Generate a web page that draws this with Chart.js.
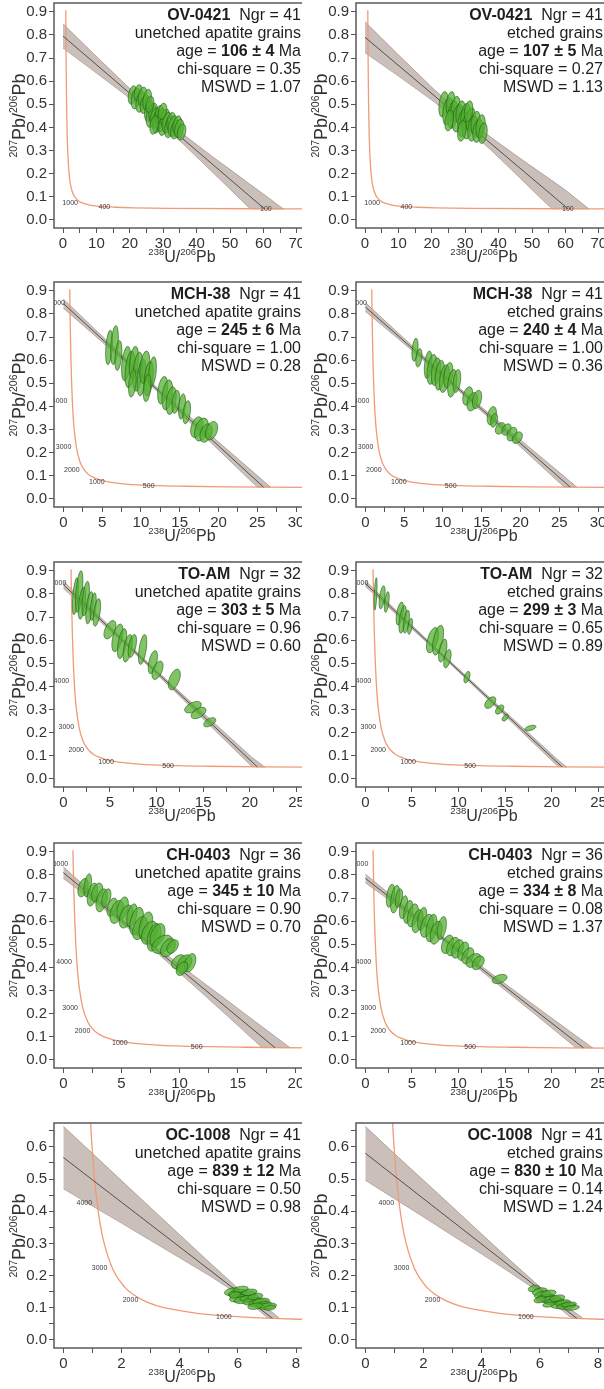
<!DOCTYPE html>
<html>
<head>
<meta charset="utf-8">
<script src="https://cdn.jsdelivr.net/npm/chart.js@4.4.1/dist/chart.umd.min.js"></script>
<style>
  html, body { margin: 0; padding: 0; background: #fff; }
  body { width: 604px; height: 1389px; position: relative; overflow: hidden; }
  .cell { position: absolute; width: 302px; height: 278px; overflow: hidden; }
  .cell canvas { display: block; }
</style>
</head>
<body>
<script>
// concordia curve (ages in Ma) and its points
const concAge = [5100, 5000, 4750, 4500, 4250, 4000, 3750, 3500, 3000, 2500, 2250, 2000, 1750, 1500, 1250, 1000, 750, 500, 400, 300, 200, 100, 50];
const concX = [0.829, 0.853, 0.918, 0.990, 1.071, 1.163, 1.267, 1.387, 1.687, 2.111, 2.394, 2.749, 3.206, 3.817, 4.673, 5.960, 8.10, 12.40, 15.62, 20.99, 31.73, 63.97, 128.4];
const concY = [0.907, 0.845, 0.709, 0.597, 0.503, 0.425, 0.360, 0.306, 0.223, 0.164, 0.142, 0.123, 0.107, 0.094, 0.082, 0.0725, 0.0643, 0.0572, 0.0547, 0.0523, 0.0501, 0.0480, 0.0470];

// one entry per panel, left to right, top to bottom
const sampleNames = ['OV-0421', 'OV-0421', 'MCH-38', 'MCH-38', 'TO-AM', 'TO-AM', 'CH-0403', 'CH-0403', 'OC-1008', 'OC-1008'];
const grainTypes = ['unetched apatite grains', 'etched grains', 'unetched apatite grains', 'etched grains', 'unetched apatite grains', 'etched grains', 'unetched apatite grains', 'etched grains', 'unetched apatite grains', 'etched grains'];
const ngr = [41, 41, 41, 41, 32, 32, 36, 36, 41, 41];
const ages = [106, 107, 245, 240, 303, 299, 345, 334, 839, 830];
const ageErrors = [4, 5, 6, 4, 5, 3, 10, 8, 12, 10];
const chiSquare = [0.35, 0.27, 1.00, 1.00, 0.96, 0.65, 0.90, 0.08, 0.50, 0.14];
const mswd = [1.07, 1.13, 0.28, 0.36, 0.60, 0.89, 0.70, 1.37, 0.98, 1.24];

// regression line: 207/206 intercept at x=0 and lower intercept on the concordia
const interceptY = [0.795, 0.79, 0.845, 0.83, 0.84, 0.845, 0.81, 0.785, 0.567, 0.58];
const lowerX = [60.3, 60.8, 25.8, 26.4, 20.8, 21.1, 18.2, 23.4, 7.19, 7.27];
const lowerY = [0.048, 0.048, 0.051, 0.051, 0.052, 0.052, 0.053, 0.052, 0.067, 0.067];

// error envelopes: [x], [upper], [lower]
const envOV0421u = [[0, 10, 20, 28, 36, 45, 52, 56, 60, 66], [0.848, 0.707, 0.568, 0.463, 0.370, 0.271, 0.197, 0.154, 0.112, 0.047], [0.743, 0.635, 0.526, 0.433, 0.328, 0.203, 0.105, 0.048, 0.048, 0.047]];
const envOV0421e = [[0, 10, 20, 29, 38, 46, 52, 56, 60, 67], [0.857, 0.714, 0.574, 0.456, 0.354, 0.271, 0.210, 0.170, 0.129, 0.048], [0.723, 0.622, 0.518, 0.416, 0.298, 0.187, 0.102, 0.048, 0.048, 0.048]];
const envMCH38u = [[0, 4, 8, 12, 16, 20, 24, 25, 26.7], [0.865, 0.736, 0.609, 0.484, 0.365, 0.246, 0.130, 0.101, 0.051], [0.825, 0.708, 0.590, 0.468, 0.341, 0.212, 0.083, 0.051, 0.051]];
const envMCH38e = [[0, 4, 8, 12, 16, 20, 24, 25.6, 27.25], [0.849, 0.725, 0.603, 0.484, 0.368, 0.255, 0.143, 0.098, 0.051], [0.811, 0.699, 0.585, 0.468, 0.348, 0.225, 0.101, 0.052, 0.051]];
const envTOAMu = [[0, 3, 6, 9, 12, 15, 18, 20.2, 21.6], [0.856, 0.737, 0.621, 0.506, 0.394, 0.285, 0.175, 0.094, 0.051], [0.824, 0.715, 0.605, 0.492, 0.376, 0.259, 0.141, 0.054, 0.051]];
const envTOAMe = [[0, 3, 6, 9, 12, 15, 18, 20.6, 21.6], [0.857, 0.741, 0.626, 0.513, 0.401, 0.290, 0.180, 0.084, 0.051], [0.833, 0.723, 0.612, 0.501, 0.387, 0.272, 0.156, 0.056, 0.051]];
const envCH0403u = [[0, 2, 4, 6, 8, 10, 12, 14, 16, 17.1, 19.5], [0.835, 0.745, 0.655, 0.568, 0.488, 0.412, 0.336, 0.261, 0.185, 0.143, 0.053], [0.785, 0.709, 0.633, 0.552, 0.466, 0.376, 0.286, 0.195, 0.103, 0.053, 0.053]];
const envCH0403e = [[0, 3, 6, 9, 12, 15, 18, 21, 22.5, 24.4], [0.804, 0.704, 0.606, 0.511, 0.419, 0.329, 0.240, 0.151, 0.107, 0.052], [0.766, 0.678, 0.588, 0.495, 0.399, 0.301, 0.204, 0.105, 0.055, 0.052]];
const envOC1008u = [[0, 1, 2, 3, 4, 5, 6, 6.5, 7.0, 7.2, 7.45], [0.664, 0.580, 0.495, 0.411, 0.327, 0.243, 0.161, 0.127, 0.096, 0.085, 0.066], [0.470, 0.416, 0.363, 0.309, 0.255, 0.201, 0.143, 0.109, 0.070, 0.067, 0.066]];
const envOC1008e = [[0, 1, 2, 3, 4, 5, 6, 6.5, 7.0, 7.2, 7.5], [0.664, 0.579, 0.496, 0.413, 0.329, 0.246, 0.165, 0.129, 0.098, 0.086, 0.066], [0.496, 0.439, 0.382, 0.324, 0.267, 0.208, 0.147, 0.113, 0.074, 0.067, 0.066]];

// grain ellipses: [238U/206Pb, 207Pb/206Pb, sx, sy]
const ellOV0421u = [[20.8, 0.54, 1.3, 0.04], [21.8, 0.525, 1.4, 0.045], [22.5, 0.55, 1.2, 0.035], [23.2, 0.51, 1.4, 0.045], [23.8, 0.535, 1.3, 0.04], [24.5, 0.5, 1.4, 0.04], [25.2, 0.52, 1.3, 0.045], [25.8, 0.47, 1.4, 0.045], [26.4, 0.45, 1.55, 0.05], [27.0, 0.465, 1.3, 0.04], [27.6, 0.44, 1.55, 0.045], [28.2, 0.425, 1.4, 0.05], [28.8, 0.455, 1.3, 0.04], [29.4, 0.43, 1.55, 0.05], [30.0, 0.41, 1.4, 0.045], [30.6, 0.44, 1.3, 0.04], [31.2, 0.42, 1.55, 0.045], [31.8, 0.4, 1.4, 0.045], [32.4, 0.425, 1.3, 0.04], [33.0, 0.405, 1.55, 0.045], [33.6, 0.39, 1.4, 0.04], [34.2, 0.41, 1.3, 0.04], [34.8, 0.395, 1.4, 0.04], [35.5, 0.38, 1.3, 0.035], [27.3, 0.41, 1.3, 0.04], [29.8, 0.47, 1.3, 0.035], [26.0, 0.5, 1.2, 0.035]];
const ellOV0421e = [[23.5, 0.5, 1.4, 0.055], [24.8, 0.47, 1.55, 0.06], [25.6, 0.505, 1.3, 0.05], [26.3, 0.455, 1.55, 0.06], [27.1, 0.48, 1.4, 0.055], [27.8, 0.44, 1.7, 0.06], [28.6, 0.465, 1.4, 0.05], [29.3, 0.42, 1.55, 0.06], [30.1, 0.45, 1.4, 0.055], [30.8, 0.41, 1.7, 0.06], [31.6, 0.435, 1.4, 0.05], [32.3, 0.395, 1.55, 0.055], [33.1, 0.42, 1.4, 0.05], [33.8, 0.385, 1.55, 0.05], [34.6, 0.405, 1.4, 0.05], [35.3, 0.375, 1.3, 0.045], [25.2, 0.43, 1.3, 0.045], [29.0, 0.385, 1.3, 0.045], [31.0, 0.47, 1.3, 0.045]];
const ellMCH38u = [[5.9, 0.655, 0.45, 0.075], [6.6, 0.665, 0.5, 0.085], [7.1, 0.62, 0.45, 0.065], [8.1, 0.585, 0.6, 0.075], [8.6, 0.56, 0.65, 0.08], [9.1, 0.59, 0.6, 0.07], [9.6, 0.55, 0.65, 0.085], [10.1, 0.525, 0.6, 0.08], [10.5, 0.57, 0.65, 0.07], [11.0, 0.52, 0.6, 0.075], [11.5, 0.55, 0.5, 0.065], [8.9, 0.5, 0.5, 0.06], [10.8, 0.48, 0.5, 0.06], [12.8, 0.47, 0.65, 0.06], [13.4, 0.45, 0.7, 0.065], [13.9, 0.425, 0.65, 0.06], [14.5, 0.42, 0.5, 0.05], [15.3, 0.4, 0.45, 0.055], [15.9, 0.375, 0.5, 0.05], [17.2, 0.31, 0.8, 0.045], [17.8, 0.3, 0.9, 0.05], [18.4, 0.285, 0.8, 0.04], [19.1, 0.295, 0.8, 0.04]];
const ellMCH38e = [[6.4, 0.645, 0.4, 0.05], [6.9, 0.61, 0.4, 0.04], [8.1, 0.58, 0.5, 0.06], [8.6, 0.56, 0.65, 0.065], [9.1, 0.55, 0.6, 0.06], [9.6, 0.535, 0.6, 0.065], [10.2, 0.52, 0.65, 0.06], [10.7, 0.535, 0.6, 0.055], [11.2, 0.5, 0.6, 0.06], [11.8, 0.51, 0.5, 0.05], [13.2, 0.445, 0.65, 0.04], [13.8, 0.42, 0.7, 0.04], [14.4, 0.43, 0.6, 0.04], [16.3, 0.36, 0.6, 0.04], [16.6, 0.34, 0.45, 0.03], [17.4, 0.305, 0.65, 0.025], [18.2, 0.3, 0.6, 0.025], [18.9, 0.28, 0.65, 0.03], [19.6, 0.265, 0.65, 0.025]];
const ellTOAMu = [[1.3, 0.79, 0.33, 0.08], [1.7, 0.81, 0.4, 0.09], [2.0, 0.76, 0.4, 0.07], [2.4, 0.78, 0.4, 0.075], [2.8, 0.74, 0.4, 0.07], [3.2, 0.745, 0.33, 0.06], [3.6, 0.72, 0.4, 0.06], [5.0, 0.645, 0.65, 0.04], [5.8, 0.61, 0.6, 0.06], [6.3, 0.585, 0.5, 0.065], [6.9, 0.565, 0.5, 0.06], [7.4, 0.575, 0.45, 0.05], [8.5, 0.56, 0.45, 0.065], [9.6, 0.505, 0.5, 0.05], [10.1, 0.47, 0.6, 0.04], [11.9, 0.43, 0.65, 0.045], [13.9, 0.31, 0.9, 0.025], [14.5, 0.285, 0.8, 0.025], [15.7, 0.245, 0.65, 0.02]];
const ellTOAMe = [[1.1, 0.8, 0.16, 0.07], [1.8, 0.785, 0.33, 0.05], [2.3, 0.765, 0.26, 0.045], [3.7, 0.715, 0.4, 0.05], [4.0, 0.69, 0.4, 0.06], [4.4, 0.68, 0.33, 0.05], [4.8, 0.66, 0.26, 0.035], [7.2, 0.6, 0.65, 0.055], [7.8, 0.6, 0.6, 0.065], [8.3, 0.555, 0.45, 0.05], [8.8, 0.52, 0.4, 0.04], [10.9, 0.44, 0.33, 0.025], [13.4, 0.33, 0.6, 0.025], [14.4, 0.3, 0.45, 0.02], [15.0, 0.265, 0.33, 0.015], [17.7, 0.22, 0.6, 0.012]];
const ellCH0403u = [[1.7, 0.745, 0.45, 0.04], [2.1, 0.755, 0.33, 0.05], [2.5, 0.715, 0.45, 0.05], [2.9, 0.725, 0.5, 0.04], [3.3, 0.69, 0.5, 0.05], [3.7, 0.7, 0.4, 0.04], [4.2, 0.66, 0.45, 0.04], [4.6, 0.64, 0.6, 0.05], [5.1, 0.655, 0.5, 0.05], [5.4, 0.62, 0.6, 0.05], [5.9, 0.625, 0.45, 0.05], [6.3, 0.6, 0.6, 0.06], [6.6, 0.57, 0.65, 0.05], [7.1, 0.58, 0.6, 0.06], [7.4, 0.55, 0.7, 0.05], [7.8, 0.53, 0.6, 0.06], [8.1, 0.54, 0.65, 0.05], [8.5, 0.5, 0.9, 0.04], [9.0, 0.485, 0.65, 0.04], [9.4, 0.49, 0.5, 0.03], [9.9, 0.425, 0.6, 0.03], [10.4, 0.415, 0.65, 0.04], [10.9, 0.42, 0.5, 0.04], [10.2, 0.395, 0.5, 0.03]];
const ellCH0403e = [[2.7, 0.71, 0.45, 0.05], [3.2, 0.695, 0.5, 0.06], [3.6, 0.7, 0.4, 0.04], [4.1, 0.66, 0.45, 0.05], [4.6, 0.64, 0.5, 0.05], [5.1, 0.625, 0.6, 0.05], [5.6, 0.6, 0.6, 0.05], [6.1, 0.61, 0.5, 0.05], [6.6, 0.58, 0.7, 0.05], [7.1, 0.57, 0.6, 0.06], [7.6, 0.55, 0.65, 0.05], [8.2, 0.57, 0.5, 0.05], [8.8, 0.5, 0.65, 0.04], [9.4, 0.49, 0.7, 0.04], [9.9, 0.48, 0.65, 0.04], [10.5, 0.47, 0.6, 0.04], [11.0, 0.45, 0.65, 0.035], [11.6, 0.43, 0.8, 0.03], [12.1, 0.42, 0.65, 0.03], [14.4, 0.35, 0.8, 0.02]];
const ellOC1008u = [[5.8, 0.15, 0.26, 0.012], [6.0, 0.145, 0.33, 0.012], [6.1, 0.157, 0.26, 0.01], [6.3, 0.14, 0.33, 0.012], [6.0, 0.13, 0.29, 0.012], [6.2, 0.125, 0.33, 0.012], [6.4, 0.13, 0.33, 0.01], [6.5, 0.12, 0.33, 0.012], [6.6, 0.135, 0.26, 0.01], [6.7, 0.115, 0.33, 0.012], [6.8, 0.12, 0.29, 0.01], [6.9, 0.11, 0.26, 0.01], [7.0, 0.105, 0.33, 0.01], [6.4, 0.148, 0.26, 0.01], [5.9, 0.14, 0.2, 0.01], [6.6, 0.105, 0.26, 0.01], [7.1, 0.1, 0.2, 0.008]];
const ellOC1008e = [[5.8, 0.16, 0.2, 0.01], [6.0, 0.15, 0.26, 0.012], [6.1, 0.14, 0.29, 0.012], [6.2, 0.13, 0.33, 0.012], [6.3, 0.145, 0.26, 0.01], [6.4, 0.125, 0.33, 0.012], [6.5, 0.12, 0.33, 0.01], [6.6, 0.13, 0.26, 0.01], [6.7, 0.11, 0.33, 0.012], [6.8, 0.115, 0.26, 0.01], [6.9, 0.105, 0.33, 0.01], [7.0, 0.11, 0.26, 0.008], [7.1, 0.1, 0.26, 0.008], [6.0, 0.125, 0.2, 0.01], [6.3, 0.11, 0.2, 0.008]];
const ellRho = [0.3, 0.3, 0.35, 0.35, 0.5, 0.5, 0.4, 0.4, 0.3, 0.3];

// concordia ages that get a label in each panel
const concLabels = [
  [1000, 400, 100], [1000, 400, 100],
  [5000, 4000, 3000, 2000, 1000, 500], [5000, 4000, 3000, 2000, 1000, 500],
  [5000, 4000, 3000, 2000, 1000, 500], [5000, 4000, 3000, 2000, 1000, 500],
  [5000, 4000, 3000, 2000, 1000, 500], [5000, 4000, 3000, 2000, 1000, 500],
  [4000, 3000, 2000, 1000], [4000, 3000, 2000, 1000]
];

const envelopes = [envOV0421u, envOV0421e, envMCH38u, envMCH38e, envTOAMu, envTOAMe, envCH0403u, envCH0403e, envOC1008u, envOC1008e];
const ellipses = [ellOV0421u, ellOV0421e, ellMCH38u, ellMCH38e, ellTOAMu, ellTOAMe, ellCH0403u, ellCH0403e, ellOC1008u, ellOC1008e];

// layout of the axes (pixels per unit are kept the same as the original figure)
const xAxes = [
  { min: -2.7, max: 73.95, step: 5, lab: 10 }, { min: -2.7, max: 73.95, step: 5, lab: 10 },
  { min: -1.2, max: 31.79, step: 2.5, lab: 5 }, { min: -1.2, max: 31.79, step: 2.5, lab: 5 },
  { min: -1.0, max: 26.45, step: 2.5, lab: 5 }, { min: -1.0, max: 26.45, step: 2.5, lab: 5 },
  { min: -0.8, max: 21.21, step: 2.5, lab: 5 }, { min: -1.0, max: 26.45, step: 2.5, lab: 5 },
  { min: -0.32, max: 8.48, step: 1, lab: 2 }, { min: -0.32, max: 8.48, step: 1, lab: 2 }
];
const rowTop = [0, 279, 559, 840, 1120];

const FAM = '"Liberation Sans", Arial, Helvetica, sans-serif';
Chart.defaults.font.family = FAM;

const isStep = (v, m) => Math.abs(v / m - Math.round(v / m)) < 1e-6;

function drawRich(ctx, parts, x, base, size, supSize, align) {
  let w = 0;
  parts.forEach(p => {
    ctx.font = (p[2] ? 'bold ' : '') + (p[1] ? supSize : size) + 'px ' + FAM;
    w += ctx.measureText(p[0]).width;
  });
  let xx = align === 'right' ? x - w : x - w / 2;
  ctx.textAlign = 'left';
  ctx.textBaseline = 'alphabetic';
  parts.forEach(p => {
    ctx.font = (p[2] ? 'bold ' : '') + (p[1] ? supSize : size) + 'px ' + FAM;
    ctx.fillText(p[0], xx, p[1] ? base - size * 0.42 : base);
    xx += ctx.measureText(p[0]).width;
  });
}

function panelPlugin(i) {
  return {
    id: 'panel' + i,
    afterDatasetsDraw(chart) {
      const { ctx, chartArea: a, scales: { x, y } } = chart;
      ctx.save();
      ctx.beginPath();
      ctx.rect(a.left, a.top, a.right - a.left, a.bottom - a.top);
      ctx.clip();
      const kx = Math.abs(x.getPixelForValue(1) - x.getPixelForValue(0));
      const ky = Math.abs(y.getPixelForValue(1) - y.getPixelForValue(0));
      const rho = ellRho[i];
      ellipses[i].forEach(e => {
        const cx = x.getPixelForValue(e[0]), cy = y.getPixelForValue(e[1]);
        const ax = e[2] * kx, ay = e[3] * ky, c = -rho * ax * ay;
        const a2 = ax * ax, b2 = ay * ay;
        const th = 0.5 * Math.atan2(2 * c, a2 - b2);
        const m = (a2 + b2) / 2, d = Math.sqrt(((a2 - b2) / 2) ** 2 + c * c);
        ctx.beginPath();
        ctx.ellipse(cx, cy, Math.sqrt(m + d), Math.sqrt(Math.max(m - d, 0.2)), th, 0, Math.PI * 2);
        ctx.fillStyle = 'rgba(84, 176, 48, 0.74)';
        ctx.fill();
        ctx.lineWidth = 0.7;
        ctx.strokeStyle = 'rgba(28, 90, 20, 0.85)';
        ctx.stroke();
      });
      ctx.font = '7px ' + FAM;
      ctx.fillStyle = '#3a3a3a';
      ctx.textAlign = 'right';
      ctx.textBaseline = 'middle';
      concLabels[i].forEach(age => {
        const k = concAge.indexOf(age);
        ctx.fillText(String(age), x.getPixelForValue(concX[k]) - 5, y.getPixelForValue(concY[k]));
      });
      ctx.restore();
    },
    afterDraw(chart) {
      const { ctx, chartArea: a } = chart;
      ctx.save();
      ctx.strokeStyle = '#5a5a5a';
      ctx.lineWidth = 1.5;
      ctx.strokeRect(a.left, a.top, a.right - a.left, a.bottom - a.top);

      ctx.fillStyle = '#333';
      drawRich(ctx, [['238', true], ['U/', false], ['206', true], ['Pb', false]], a.left + 128, a.bottom + 34, 16, 9.5, 'center');
      ctx.save();
      ctx.translate(25, (a.top + a.bottom) / 2);
      ctx.rotate(-Math.PI / 2);
      drawRich(ctx, [['207', true], ['Pb/', false], ['206', true], ['Pb', false]], 0, 0, 18, 10.5, 'center');
      ctx.restore();

      ctx.fillStyle = '#1e1e1e';
      const lines = [
        [[sampleNames[i], false, true], ['  Ngr = ' + ngr[i], false]],
        [[grainTypes[i], false]],
        [['age = ', false], [ages[i] + ' \u00b1 ' + ageErrors[i], false, true], [' Ma', false]],
        [['chi-square = ' + chiSquare[i].toFixed(2), false]],
        [['MSWD = ' + mswd[i].toFixed(2), false]]
      ];
      lines.forEach((ln, k) => drawRich(ctx, ln, 301, a.top + 17 + k * 18.1, 16, 16, 'right'));
      ctx.restore();
    }
  };
}

function makeChart(i) {
  const col = i % 2, row = Math.floor(i / 2);
  const cell = document.createElement('div');
  cell.className = 'cell';
  cell.style.left = (col * 302) + 'px';
  cell.style.top = rowTop[row] + 'px';
  const cv = document.createElement('canvas');
  cv.width = 310;
  cv.height = 278;
  cell.appendChild(cv);
  document.body.appendChild(cell);

  const env = envelopes[i];
  const xa = xAxes[i];
  const lastRow = row === 4;

  new Chart(cv, {
    type: 'line',
    data: {
      datasets: [
        {
          data: [{ x: 0, y: interceptY[i] }, { x: lowerX[i], y: lowerY[i] }],
          borderColor: '#4f4f4f', borderWidth: 1, pointRadius: 0, fill: false
        },
        {
          data: concX.map((v, k) => ({ x: v, y: concY[k] })),
          borderColor: '#f09a78', borderWidth: 1.3, pointRadius: 0, fill: false,
          cubicInterpolationMode: 'monotone'
        },
        {
          data: env[0].map((v, k) => ({ x: v, y: env[1][k] })),
          borderColor: 'rgba(110, 95, 85, 0.6)', borderWidth: 0.7, pointRadius: 0,
          fill: '+1', backgroundColor: 'rgba(160, 140, 128, 0.55)'
        },
        {
          data: env[0].map((v, k) => ({ x: v, y: env[2][k] })),
          borderColor: 'rgba(110, 95, 85, 0.6)', borderWidth: 0.7, pointRadius: 0, fill: false
        }
      ]
    },
    options: {
      responsive: false,
      animation: false,
      events: [],
      layout: { padding: { top: 3, left: 0, right: 0, bottom: 0 } },
      plugins: { legend: { display: false }, tooltip: { enabled: false } },
      scales: {
        x: {
          type: 'linear', min: xa.min, max: xa.max,
          afterFit: s => { s.height = 50; s.paddingLeft = 0; s.paddingRight = 0; },
          ticks: {
            stepSize: xa.step, includeBounds: false, autoSkip: false, maxRotation: 0, minRotation: 0,
            padding: 2, color: '#333', font: { size: 15 },
            callback: v => isStep(v, xa.lab) ? String(v) : ''
          },
          grid: { drawOnChartArea: false, drawTicks: true, tickLength: 5, color: '#555', lineWidth: 1 },
          border: { display: false }
        },
        y: {
          type: 'linear',
          min: lastRow ? -0.025 : -0.035,
          max: lastRow ? 0.674 : 0.938,
          afterFit: s => { s.width = 54; s.paddingTop = 0; s.paddingBottom = 0; },
          ticks: {
            stepSize: lastRow ? 0.05 : 0.1, includeBounds: false, autoSkip: false,
            padding: 2, color: '#333', font: { size: 15 },
            callback: v => isStep(v, 0.1) ? v.toFixed(1) : ''
          },
          grid: { drawOnChartArea: false, drawTicks: true, tickLength: 5, color: '#555', lineWidth: 1 },
          border: { display: false }
        }
      }
    },
    plugins: [panelPlugin(i)]
  });
}

for (let i = 0; i < 10; i++) makeChart(i);
</script>
</body>
</html>
